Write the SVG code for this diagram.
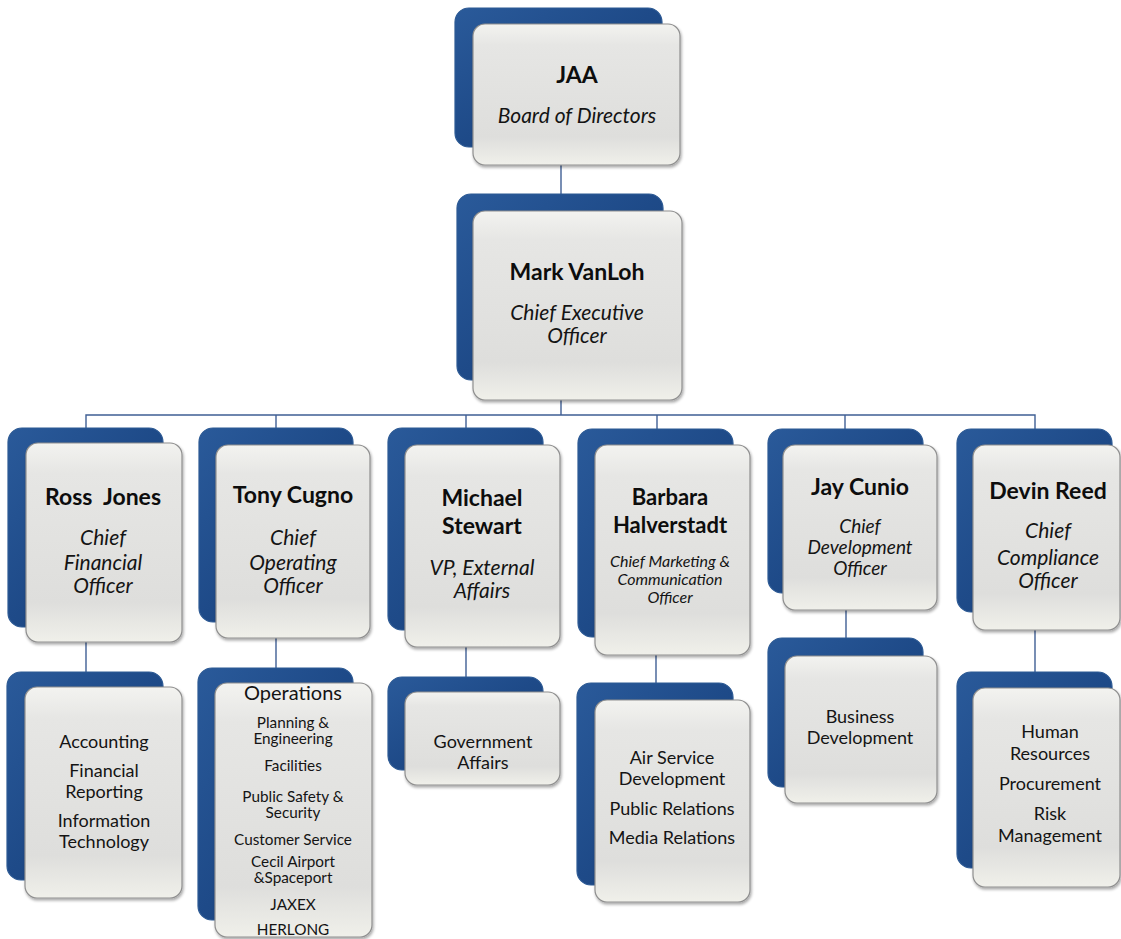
<svg xmlns="http://www.w3.org/2000/svg" width="1121" height="939" viewBox="0 0 1121 939">
<defs>
<linearGradient id="gBack" x1="0" y1="0" x2="1" y2="1">
<stop offset="0" stop-color="#2a5a9a"/>
<stop offset="0.5" stop-color="#1e4a88"/>
<stop offset="1" stop-color="#173f74"/>
</linearGradient>
<linearGradient id="gFront" x1="0" y1="0" x2="0" y2="1">
<stop offset="0" stop-color="#f3f3f0"/>
<stop offset="0.15" stop-color="#e6e6e4"/>
<stop offset="0.8" stop-color="#dededc"/>
<stop offset="1" stop-color="#f0f0ea"/>
</linearGradient>
<filter id="sh" x="-10%" y="-10%" width="120%" height="120%">
<feGaussianBlur in="SourceAlpha" stdDeviation="1.5"/>
<feOffset dx="1" dy="1.5"/>
<feComponentTransfer><feFuncA type="linear" slope="0.35"/></feComponentTransfer>
<feMerge><feMergeNode/><feMergeNode in="SourceGraphic"/></feMerge>
</filter>
</defs>
<style>
.back{fill:url(#gBack);stroke:#2d5a94;stroke-width:1.2}
.front{fill:url(#gFront);stroke:#8f8f8f;stroke-width:1.2;filter:url(#sh)}
.name{font-family:Lato,"Liberation Sans",sans-serif;font-weight:bold;font-size:23px;fill:#0d0d0d;text-anchor:middle}
.title{font-family:Lato,"Liberation Sans",sans-serif;font-style:italic;font-size:21px;fill:#141414;text-anchor:middle}
.item{font-family:Lato,"Liberation Sans",sans-serif;font-size:18px;fill:#141414;text-anchor:middle}
.small{font-family:Lato,"Liberation Sans",sans-serif;font-size:15.3px;fill:#141414;text-anchor:middle}
.conn{stroke:#3f5f94;stroke-width:1.4;fill:none}
</style>
<rect width="1121" height="939" fill="#ffffff"/>
<g id="connectors">
<line class="conn" x1="561" y1="165" x2="561" y2="211"/>
<line class="conn" x1="561" y1="400" x2="561" y2="415"/>
<polyline class="conn" points="86,429 86,415 1035,415 1035,429"/>
<line class="conn" x1="276" y1="415" x2="276" y2="429"/>
<line class="conn" x1="466" y1="415" x2="466" y2="429"/>
<line class="conn" x1="657" y1="415" x2="657" y2="429"/>
<line class="conn" x1="845" y1="415" x2="845" y2="429"/>
<line class="conn" x1="86" y1="642" x2="86" y2="673"/>
<line class="conn" x1="276" y1="638" x2="276" y2="669"/>
<line class="conn" x1="466" y1="647" x2="466" y2="678"/>
<line class="conn" x1="656" y1="655" x2="656" y2="684"/>
<line class="conn" x1="846" y1="610" x2="846" y2="639"/>
<line class="conn" x1="1035" y1="630" x2="1035" y2="673"/>
</g>
<g id="jaa">
<rect class="back" x="455" y="8" width="207" height="139" rx="14"/>
<rect class="front" x="473" y="24" width="207" height="141" rx="12"/>
<text class="name" x="577" y="83">JAA</text>
<text class="title" x="577" y="123">Board of Directors</text>
</g>
<g id="ceo">
<rect class="back" x="457" y="194" width="206" height="186" rx="14"/>
<rect class="front" x="473" y="211" width="209" height="189" rx="12"/>
<text class="name" x="577" y="280">Mark VanLoh</text>
<text class="title" x="577" y="320">Chief Executive</text>
<text class="title" x="577" y="343">Officer</text>
</g>
<g id="ross">
<rect class="back" x="8" y="428" width="155" height="199" rx="14"/>
<rect class="front" x="26" y="443" width="156" height="199" rx="12"/>
<text class="name" x="103" y="505" xml:space="preserve">Ross  Jones</text>
<text class="title" x="103" y="545">Chief</text>
<text class="title" x="103" y="570">Financial</text>
<text class="title" x="103" y="593">Officer</text>
</g>
<g id="tony">
<rect class="back" x="199" y="428" width="154" height="194" rx="14"/>
<rect class="front" x="216" y="445" width="154" height="193" rx="12"/>
<text class="name" x="293" y="503">Tony Cugno</text>
<text class="title" x="293" y="545">Chief</text>
<text class="title" x="293" y="570">Operating</text>
<text class="title" x="293" y="593">Officer</text>
</g>
<g id="michael">
<rect class="back" x="388" y="428" width="155" height="202" rx="14"/>
<rect class="front" x="405" y="445" width="155" height="202" rx="12"/>
<text class="name" x="482" y="506">Michael</text>
<text class="name" x="482" y="534">Stewart</text>
<text class="title" x="482" y="575">VP, External</text>
<text class="title" x="482" y="598">Affairs</text>
</g>
<g id="barbara">
<rect class="back" x="578" y="429" width="155" height="208" rx="14"/>
<rect class="front" x="595" y="445" width="155" height="210" rx="12"/>
<text class="name" x="670" y="505" style="font-size:22px">Barbara</text>
<text class="name" x="670" y="533" style="font-size:22px">Halverstadt</text>
<text class="title" x="670" y="567" style="font-size:16px">Chief Marketing &amp;</text>
<text class="title" x="670" y="585" style="font-size:16px">Communication</text>
<text class="title" x="670" y="603" style="font-size:16px">Officer</text>
</g>
<g id="jay">
<rect class="back" x="768" y="429" width="155" height="164" rx="14"/>
<rect class="front" x="783" y="445" width="154" height="165" rx="12"/>
<text class="name" x="860" y="495">Jay Cunio</text>
<text class="title" x="860" y="533" style="font-size:19px">Chief</text>
<text class="title" x="860" y="554" style="font-size:19px">Development</text>
<text class="title" x="860" y="575" style="font-size:19px">Officer</text>
</g>
<g id="devin">
<rect class="back" x="957" y="429" width="155" height="183" rx="14"/>
<rect class="front" x="973" y="445" width="147" height="185" rx="12"/>
<text class="name" x="1048" y="499">Devin Reed</text>
<text class="title" x="1048" y="538">Chief</text>
<text class="title" x="1048" y="565">Compliance</text>
<text class="title" x="1048" y="588">Officer</text>
</g>
<g id="finance">
<rect class="back" x="7" y="672" width="156" height="208" rx="14"/>
<rect class="front" x="25" y="687" width="157" height="211" rx="12"/>
<text class="item" x="104" y="748">Accounting</text>
<text class="item" x="104" y="777">Financial</text>
<text class="item" x="104" y="798">Reporting</text>
<text class="item" x="104" y="827">Information</text>
<text class="item" x="104" y="848">Technology</text>
</g>
<g id="operations">
<rect class="back" x="198" y="668" width="155" height="252" rx="14"/>
<rect class="front" x="215" y="683" width="157" height="254" rx="12"/>
<text class="item" x="293" y="700" style="font-size:20px">Operations</text>
<text class="small" x="293" y="728">Planning &amp;</text>
<text class="small" x="293" y="744">Engineering</text>
<text class="small" x="293" y="771">Facilities</text>
<text class="small" x="293" y="802">Public Safety &amp;</text>
<text class="small" x="293" y="818">Security</text>
<text class="small" x="293" y="845">Customer Service</text>
<text class="small" x="293" y="867">Cecil Airport</text>
<text class="small" x="293" y="883">&amp;Spaceport</text>
<text class="small" x="293" y="910">JAXEX</text>
<text class="small" x="293" y="935">HERLONG</text>
</g>
<g id="government">
<rect class="back" x="388" y="677" width="155" height="93" rx="14"/>
<rect class="front" x="405" y="692" width="155" height="93" rx="12"/>
<text class="item" x="483" y="748">Government</text>
<text class="item" x="483" y="769">Affairs</text>
</g>
<g id="marketing">
<rect class="back" x="577" y="683" width="156" height="202" rx="14"/>
<rect class="front" x="595" y="700" width="155" height="202" rx="12"/>
<text class="item" x="672" y="764">Air Service</text>
<text class="item" x="672" y="785">Development</text>
<text class="item" x="672" y="815">Public Relations</text>
<text class="item" x="672" y="844">Media Relations</text>
</g>
<g id="business">
<rect class="back" x="768" y="638" width="155" height="149" rx="14"/>
<rect class="front" x="785" y="656" width="152" height="147" rx="12"/>
<text class="item" x="860" y="723">Business</text>
<text class="item" x="860" y="744">Development</text>
</g>
<g id="compliance">
<rect class="back" x="957" y="672" width="155" height="196" rx="14"/>
<rect class="front" x="973" y="688" width="147" height="199" rx="12"/>
<text class="item" x="1050" y="738">Human</text>
<text class="item" x="1050" y="760">Resources</text>
<text class="item" x="1050" y="790">Procurement</text>
<text class="item" x="1050" y="820">Risk</text>
<text class="item" x="1050" y="842">Management</text>
</g>
</svg>
